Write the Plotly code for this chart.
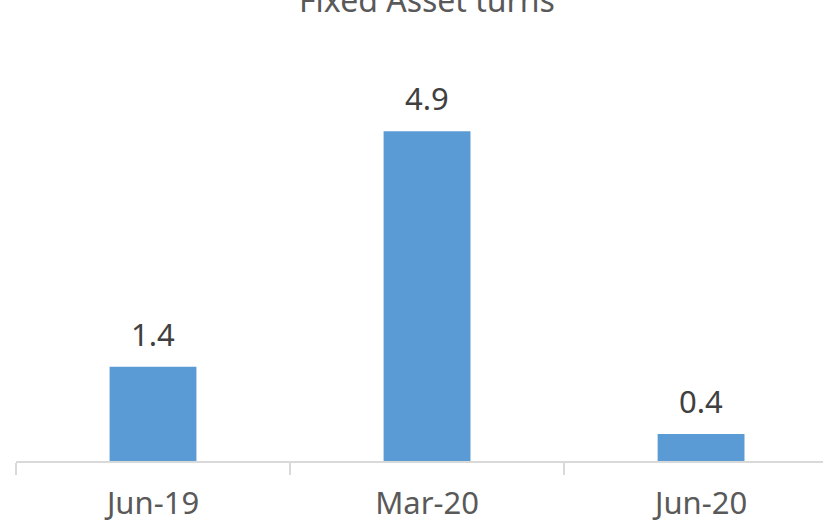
import plotly.graph_objects as go

categories = ["Jun-19", "Mar-20", "Jun-20"]
values = [1.4, 4.9, 0.4]
labels = ["1.4", "4.9", "0.4"]
title_text = "Fixed Asset turns"

fig = go.Figure(go.Bar(
    x=categories, y=values,
    marker=dict(color="#5b9bd5", line=dict(width=0)),
    width=0.317,
))

annotations = [dict(text=title_text, xref="paper", yref="paper", x=(427-16)/807, y=1,
                    xanchor="center", yanchor="top", yshift=24, showarrow=False,
                    font=dict(family="Noto Sans", size=32, color="#595959"))]
for c, v, t in zip(categories, values, labels):
    annotations.append(dict(text=t, x=c, y=v, xref="x", yref="y", xanchor="center",
                            yanchor="bottom", yshift=10, showarrow=False,
                            font=dict(family="Noto Sans", size=31, color="#404040")))

fig.update_layout(
    width=823, height=524,
    margin=dict(l=16, r=0, t=0, b=63),
    paper_bgcolor="white", plot_bgcolor="white",
    showlegend=False,
    font=dict(family="Noto Sans", color="#595959"),
    annotations=annotations,
)
fig.update_xaxes(
    range=[-0.5, 2.445], showline=True, linecolor="#d9d9d9", linewidth=2,
    ticks="outside", tickson="boundaries", ticklen=12, tickcolor="#d9d9d9", tickwidth=2,
    tickfont=dict(family="Noto Sans", size=31, color="#595959"), showgrid=False,
    automargin=False, ticklabelstandoff=14,
)
fig.update_yaxes(range=[0, 6.85], visible=False, showgrid=False, automargin=False)

fig.write_html("out.html", config={"displayModeBar": False},
               post_script="document.body.style.margin='0';document.body.style.overflow='hidden';")
